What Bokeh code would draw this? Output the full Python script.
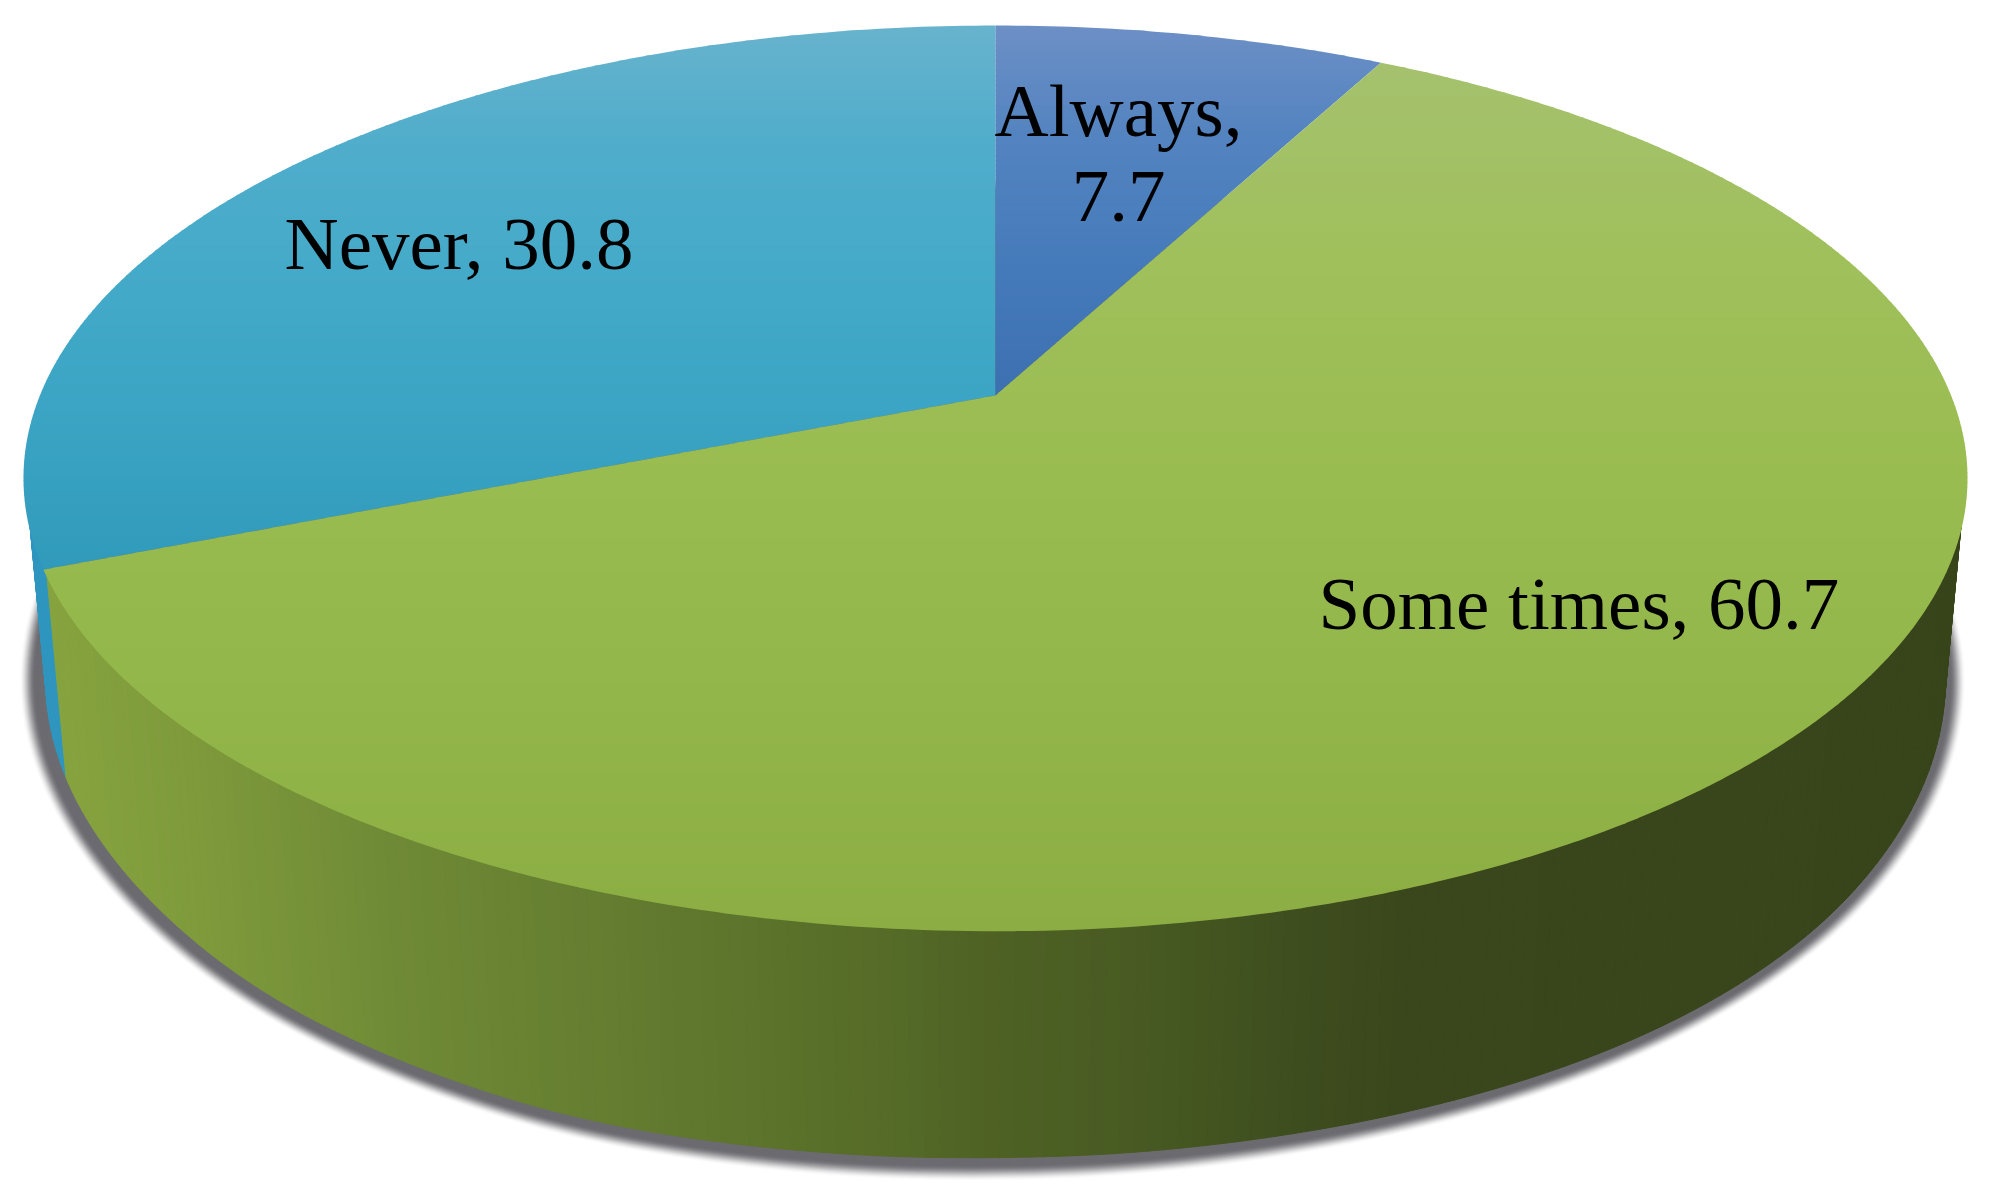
import numpy as np
from bokeh.plotting import figure
from bokeh.models import ColumnDataSource
from bokeh.core.properties import value
from bokeh.embed import file_html
from bokeh.resources import INLINE

# ---- data ----
categories = ["Always", "Some times", "Never"]
values = [7.7, 60.7, 30.8]

# ---- styling ----
top_stops = {
    "Always": [(25, "#6d8fc6"), (130, "#5484c0"), (260, "#467bbb"), (395, "#3c70b0")],
    "Some times": [(60, "#a5c16e"), (250, "#a0c05c"), (480, "#99bc50"), (700, "#93b64a"), (932, "#8bad43")],
    "Never": [(25, "#67b3cd"), (150, "#4fadcb"), (300, "#42a9c8"), (450, "#39a2c2"), (570, "#319abb")],
}
wall_stops = {
    "Some times": [(50, "#86a33f"), (200, "#7d993b"), (390, "#6f8a36"), (700, "#5f772d"),
                   (900, "#546a27"), (1000, "#4e6124"), (1150, "#485a22"), (1255, "#40511f"),
                   (1400, "#3a471c"), (1970, "#38451b")],
    "Never": [(0, "#2f96bf"), (2000, "#2f96bf")],
    "Always": [(0, "#3c70b0"), (2000, "#3c70b0")],
}
BASE_FIX = 27  # distance that Bokeh's alphabetic baseline sits below the given y
label_items = [
    ("Always,", 1118, 137, "center"),
    ("7.7", 1118, 223, "center"),
    ("Some times, 60.7", 1318, 630, "left"),
    ("Never, 30.8", 284, 270, "left"),
]
FONT_PX = 75
SHADOW = "#6b6b70"

# lower rim calibration: how far the drawn rim sits below the plain projection
rim_x = [0, 67, 128, 255, 383, 574, 765, 995, 1255, 1446, 1638, 1765, 1861, 1925, 2000]
rim_dy = [0, 0, 2, 8, 8, 9, 4, 0, 0, 2, 6, 8, 8, 3, 0]
grid_x = np.arange(-200.0, 2201.0, 5.0)
kernel = np.ones(25) / 25
grid_dy = np.convolve(np.interp(grid_x, rim_x, rim_dy), kernel, mode="same")

# ---- perspective model of the disc ----
CX, APEX_Y = 995.0, 395.0
A, B, K = 955.6, -365.4, 0.183
M, N = 0.0227, 211.0


def project(theta, h=0.0):
    u, v = np.cos(theta), np.sin(theta)
    w = 1 + K * v + M * h
    x = CX + A * u / w
    y = (B * v + APEX_Y + N * h) / w
    if h:
        y = y + np.interp(x, grid_x, grid_dy) * (v < 0)
    return x, y


def mix(stops, t):
    pos = [s[0] for s in stops]
    rgb = [[int(s[1][i:i + 2], 16) for i in (1, 3, 5)] for s in stops]
    c = [np.interp(t, pos, [r[i] for r in rgb]) for i in range(3)]
    return "#%02x%02x%02x" % tuple(int(round(x)) for x in c)


def clip_band(xs, ys, y0, y1):
    pts = list(zip(xs, ys))

    def clip(pts, inside, limit):
        out = []
        for i, p in enumerate(pts):
            q = pts[(i + 1) % len(pts)]
            a, b = inside(p), inside(q)
            if a:
                out.append(p)
            if a != b:
                f = (limit - p[1]) / (q[1] - p[1])
                out.append((p[0] + f * (q[0] - p[0]), limit))
        return out

    pts = clip(pts, lambda p: p[1] >= y0, y0)
    if pts:
        pts = clip(pts, lambda p: p[1] <= y1, y1)
    return pts


total = sum(values)
slices = []
angle = np.pi / 2
for name, val in zip(categories, values):
    sweep = 2 * np.pi * val / total
    slices.append((name, angle, angle - sweep))
    angle -= sweep

p = figure(width=1984, height=1180, x_range=(0, 1984), y_range=(1180, 0),
           output_backend="svg", toolbar_location=None, min_border=0)
p.axis.visible = False
p.grid.visible = False
p.outline_line_color = None
p.background_fill_color = "white"
p.border_fill_color = "white"

# shadow: soft halo around the lower rim
ring = np.linspace(0, 2 * np.pi, 361)
rx, ry = project(ring, 1.0)
rcx, rcy = rx.mean(), ry.mean()
sx, sy, sc = [], [], []
E = 24.0
for e in np.arange(E, -0.1, -1.0):
    d = np.hypot(rx - rcx, (ry - rcy))
    f = (1 + e / d)
    t = np.clip((E - e) / 16.0, 0, 1)
    t = t * t * (3 - 2 * t)
    sx.append(list(rcx - 3 + (rx - rcx) * f))
    sy.append(list(rcy + (ry - rcy) * f))
    sc.append(mix([(0, "#ffffff"), (1, SHADOW)], t))
p.patches(sx, sy, fill_color=sc, line_color=None)

# side wall: thin quads coloured by horizontal position (front half only);
# their upper ends are tucked just inside the top face, which covers them
wx, wy, wc = [], [], []
for name, a0, a1 in slices[::-1]:
    n = max(2, int(abs(a1 - a0) / np.radians(0.75)))
    th = np.linspace(a0, a1, n + 1)
    tx, ty = project(th)
    ix = CX + (tx - CX) * 0.997
    iy = 478 + (ty - 478) * 0.997
    bx, by = project(th, 1.0)
    for i in range(n):
        if np.sin(th[i]) > 0 or np.sin(th[i + 1]) > 0:
            continue
        wx.append([ix[i], ix[i + 1], bx[i + 1], bx[i]])
        wy.append([iy[i], iy[i + 1], by[i + 1], by[i]])
        wc.append(mix(wall_stops[name], (tx[i] + tx[i + 1]) / 2))
p.patches(wx, wy, fill_color=wc, line_color=wc, line_width=1)

# top face: slices cut in horizontal bands for the vertical gradient
for name in ["Never", "Always", "Some times"]:
    _, a0, a1 = next(s for s in slices if s[0] == name)
    th = np.linspace(a0, a1, max(2, int(abs(a1 - a0) / np.radians(0.75))) + 1)
    ex, ey = project(th)
    xs = np.r_[CX, ex]
    ys = np.r_[APEX_Y, ey]
    bx, by, bc = [], [], []
    for y0 in np.arange(np.floor(ys.min()), ys.max(), 5.0):
        pts = clip_band(xs, ys, y0, y0 + 5.6)
        if len(pts) >= 3:
            bx.append([q[0] for q in pts])
            by.append([q[1] for q in pts])
            bc.append(mix(top_stops[name], y0 + 2.5))
    p.patches(bx, by, fill_color=bc, line_color=None)

# labels
src = ColumnDataSource(dict(
    x=[i[1] for i in label_items], y=[i[2] - BASE_FIX for i in label_items],
    text=[i[0] for i in label_items], align=[i[3] for i in label_items]))
p.text("x", "y", text="text", source=src, text_font=value("Liberation Serif"),
       text_font_size=f"{FONT_PX}px", text_color="#000000", text_align="align",
       text_baseline="alphabetic")

open("out.html", "w").write(file_html(p, INLINE))
